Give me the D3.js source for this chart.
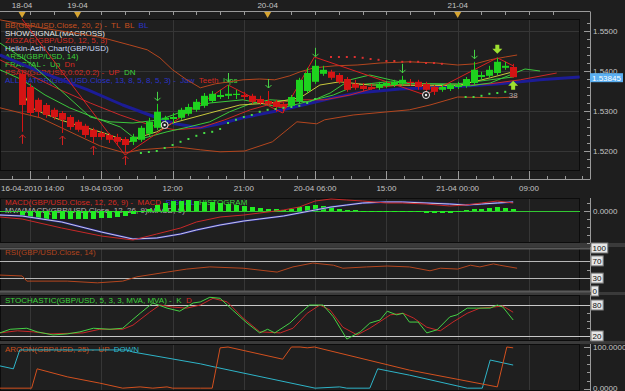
<!DOCTYPE html>
<html>
<head>
<meta charset="utf-8">
<script src="https://cdn.jsdelivr.net/npm/d3@7"></script>
<style>
body{margin:0;background:#202020;}
svg{display:block;}
text{font-family:"Liberation Sans",Arial,sans-serif;font-size:8px;}
</style>
</head>
<body>
<script>
// ---- time axis ----
var dayLabels = ["18-04", "19-04", "20-04", "21-04"];
var dayIndex = [0, 7, 31, 55];
var timeLabels = ["16-04-2010 14:00", "19-04 03:00", "12:00", "21:00", "20-04 06:00", "15:00", "21-04 00:00", "09:00"];
var timeIndex = [1, 10, 19, 28, 37, 46, 55, 64];
var priceTicks = [1.55, 1.54, 1.53, 1.52];
var lastPrice = 1.53845;

// ---- Heikin-Ashi candles (one per hour) ----
var haOpen  = [1.5393,1.5360,1.5328,1.5315,1.5303,1.5295,1.5285,1.5273,1.5263,1.5253,1.5245,1.5240,1.5235,1.5230,1.5223,1.5228,1.5243,1.5258,1.5278,1.5280,1.5283,1.5293,1.5303,1.5313,1.5325,1.5335,1.5338,1.5340,1.5340,1.5338,1.5330,1.5325,1.5323,1.5318,1.5313,1.5325,1.5350,1.5373,1.5393,1.5398,1.5390,1.5380,1.5368,1.5363,1.5360,1.5358,1.5363,1.5365,1.5368,1.5373,1.5373,1.5368,1.5360,1.5353,1.5355,1.5360,1.5363,1.5370,1.5385,1.5388,1.5395,1.5408,1.5410];
var haHigh  = [1.5403,1.5368,1.5333,1.5320,1.5308,1.5300,1.5290,1.5278,1.5268,1.5258,1.5250,1.5245,1.5243,1.5235,1.5243,1.5263,1.5283,1.5318,1.5288,1.5295,1.5308,1.5318,1.5330,1.5345,1.5350,1.5353,1.5365,1.5353,1.5348,1.5343,1.5338,1.5350,1.5328,1.5323,1.5340,1.5383,1.5408,1.5428,1.5413,1.5403,1.5395,1.5385,1.5378,1.5370,1.5368,1.5373,1.5375,1.5378,1.5388,1.5380,1.5378,1.5373,1.5365,1.5365,1.5370,1.5373,1.5385,1.5423,1.5398,1.5413,1.5433,1.5423,1.5418];
var haLow   = [1.5248,1.5288,1.5285,1.5283,1.5278,1.5245,1.5253,1.5248,1.5233,1.5220,1.5228,1.5220,1.5213,1.5195,1.5215,1.5223,1.5238,1.5253,1.5268,1.5268,1.5278,1.5288,1.5298,1.5308,1.5320,1.5330,1.5330,1.5330,1.5328,1.5318,1.5315,1.5313,1.5298,1.5295,1.5308,1.5320,1.5345,1.5368,1.5388,1.5378,1.5368,1.5348,1.5353,1.5350,1.5353,1.5353,1.5358,1.5360,1.5363,1.5363,1.5353,1.5335,1.5340,1.5348,1.5350,1.5355,1.5358,1.5365,1.5378,1.5383,1.5390,1.5403,1.5383];
var haClose = [1.5315,1.5295,1.5298,1.5290,1.5285,1.5278,1.5260,1.5253,1.5240,1.5235,1.5235,1.5228,1.5223,1.5215,1.5235,1.5258,1.5273,1.5298,1.5283,1.5285,1.5303,1.5310,1.5323,1.5338,1.5343,1.5340,1.5343,1.5343,1.5335,1.5323,1.5320,1.5318,1.5310,1.5308,1.5335,1.5378,1.5395,1.5413,1.5403,1.5383,1.5373,1.5353,1.5358,1.5355,1.5355,1.5368,1.5370,1.5373,1.5378,1.5370,1.5360,1.5353,1.5348,1.5360,1.5365,1.5365,1.5380,1.5403,1.5390,1.5403,1.5423,1.5413,1.53845];

// ---- overlays: [bar index, price] ----
var bbTop = [[-2.8,1.5528],[2.3,1.5508],[7.3,1.5493],[10.2,1.5483],[13.6,1.5465],[15.8,1.5453],[17.4,1.5433],[19,1.5403],[20.8,1.5378],[22.5,1.5358],[24.4,1.5368],[26.2,1.5373],[27.9,1.5378],[30,1.538],[31.9,1.5378],[33.8,1.5388],[35.1,1.5398],[36.9,1.5408],[39.5,1.5413],[42.3,1.5415],[45.2,1.542],[48.9,1.5423],[52.3,1.542],[55,1.5415],[57.2,1.5418],[59.1,1.5428],[61,1.5435],[62.5,1.544]];
var bbBottom = [[-2.8,1.5308],[2.3,1.5283],[6.9,1.524],[9.8,1.5213],[13,1.5195],[14.9,1.5203],[19.6,1.521],[22.5,1.5203],[25,1.5198],[28.1,1.52],[31.6,1.5223],[34.7,1.5273],[37.2,1.5268],[38.2,1.5278],[41.8,1.529],[48.9,1.5303],[51.5,1.5315],[55,1.5335],[60,1.5333],[62.5,1.5335]];
var jaw = [[-2.8,1.544],[2.3,1.5398],[8.3,1.5353],[12.7,1.5315],[16.1,1.529],[19.3,1.5268],[22.5,1.5258],[25,1.5268],[27.9,1.5283],[32.9,1.5303],[39.3,1.5333],[42.3,1.5345],[47.7,1.5355],[54,1.536],[60.3,1.5368],[65.4,1.5378],[70.4,1.5385]];
var teeth = [[-2.8,1.5428],[1,1.539],[4.8,1.5353],[8.6,1.532],[12.4,1.529],[16.1,1.5265],[19.3,1.5253],[22.5,1.5258],[25.6,1.5278],[28.8,1.5303],[31.9,1.532],[35.1,1.5328],[38.2,1.5328],[41.4,1.534],[44.6,1.5358],[47.7,1.5365],[51.5,1.5365],[55.3,1.5363],[59.1,1.5368],[62.9,1.5378],[67.5,1.5395]];
var lips = [[-2.8,1.5403],[0,1.5378],[2.9,1.534],[6,1.5308],[9.2,1.5283],[12.4,1.526],[14,1.5235],[15.5,1.5233],[18.3,1.5248],[21,1.526],[23.7,1.5273],[26.2,1.5298],[28.8,1.5318],[31.3,1.5328],[33.8,1.5325],[36.3,1.5323],[38.9,1.5345],[41.4,1.5378],[43.9,1.539],[46.5,1.5378],[48.9,1.5368],[51.5,1.5368],[54,1.5365],[56.6,1.5363],[59.1,1.537],[61.6,1.539],[63.5,1.5405],[65.4,1.54]];
var arsi = [[-2.8,1.5470],[1,1.5420],[4.8,1.5353],[8.6,1.5285],[11.1,1.5273],[14,1.527],[17.4,1.5278],[20.8,1.5303],[23.7,1.532],[27.9,1.5328],[32.9,1.5308],[39.3,1.534],[42.3,1.5365],[46.1,1.5373],[50.9,1.5368],[55,1.5368],[59.1,1.5378],[62,1.5385]];
var maFast = [[0,1.5353],[1,1.531],[2.6,1.5295],[4.8,1.5278],[6.9,1.5265],[9,1.5253],[11.1,1.524],[12.7,1.5228],[13.6,1.5223],[14.9,1.5235],[17,1.5248],[19,1.527],[23.7,1.5295],[27.5,1.5315],[31.3,1.532],[35.1,1.5333],[37.6,1.5365],[40.1,1.5373],[43.9,1.5365],[47.7,1.5365],[51.5,1.5363],[55.3,1.5365],[59.1,1.5383],[62,1.5398]];
var zigzag = [[-2.8,1.5603],[13,1.519],[26,1.5365],[32.9,1.5295],[36.9,1.5435],[50.9,1.534],[60,1.5433],[62,1.5413]];
var sarUp = [[15,1.5195],[16,1.51975],[17,1.52],[18,1.52075],[19,1.5215],[20,1.5223],[21,1.523],[22,1.5238],[23,1.5245],[24,1.5248],[25,1.5255],[26,1.527],[27,1.5278],[28,1.5285],[29,1.529],[30,1.5298],[31,1.5303],[32,1.5305],[33,1.5308],[34,1.531],[35,1.5313],[36,1.532],[37,1.533],[56,1.5335],[57,1.5335],[58,1.5338],[59,1.5343],[60,1.5345],[61,1.5348]];
var sarDown = [[39,1.5435],[40,1.5435],[41,1.5435],[42,1.5435],[43,1.5433],[44,1.543],[45,1.5428],[46,1.5425],[47,1.5425],[48,1.5423],[49,1.5423],[50,1.5423],[51,1.542],[52,1.542],[53,1.5418]];
var fractalUp = [17, 26, 31, 37, 48, 57];
var fractalDn = [0, 5, 9, 13];
var zigzagMarks = [[18,1.5265],[51,1.534]];
var sellSignal = [60];
var buySignal = [62];
var buyCount = ["38"];

// ---- MACD ----
var macdHist = [-0.0005,-0.0007,-0.0008,-0.0008,-0.0008,-0.0008,-0.0008,-0.0008,-0.0008,-0.0008,-0.0007,-0.0007,-0.0006,-0.0005,-0.0003,-0.0001,0.0002,0.0006,0.0008,0.0010,0.0010,0.0011,0.0010,0.0009,0.0009,0.0008,0.0007,0.0006,0.0005,0.0004,0.0003,0.0002,0.0002,0.0001,0.0002,0.0004,0.0005,0.0006,0.0005,0.0004,0.0002,0.0001,0.0001,0,-0.0001,-0.0001,-0.0001,-0.0001,-0.0001,-0.0001,-0.0001,-0.0002,-0.0002,-0.0002,-0.0002,-0.0001,0.0001,0.0002,0.0002,0.0003,0.0004,0.0003,0.0002];
var macdLine = [[-2.8,-0.0006],[0,-0.0008],[5,-0.0017],[10,-0.0025],[14,-0.0029],[17,-0.0023],[20,-0.0017],[22,-0.0011],[25,-0.0006],[28,-0.0004],[30,-0.0002],[33,0.0001],[35,0.0004],[37,0.0010],[39,0.0012],[41,0.0011],[43,0.0010],[46,0.0008],[48,0.0008],[51,0.0007],[54,0.0005],[56,0.0006],[58,0.0008],[60,0.0010],[62,0.0008]];
var macdSignal = [[-2.8,-0.0004],[0,-0.0005],[5,-0.0011],[10,-0.0021],[14,-0.0028],[17,-0.0027],[20,-0.0023],[22,-0.0019],[25,-0.0014],[28,-0.0010],[30,-0.0008],[33,-0.0005],[35,-0.0002],[37,0.0001],[39,0.0004],[41,0.0006],[43,0.0008],[46,0.0009],[48,0.0009],[51,0.0008],[54,0.0007],[56,0.0006],[58,0.0007],[60,0.0008],[62,0.0009]];

// ---- RSI ----
var rsiLine = [[-2.8,37],[0,35],[0.6,23],[5.7,23],[9.5,19],[12.7,23],[14.5,33],[18.3,44],[20.8,51],[23.7,56],[27.9,53],[32.2,44],[34.2,56],[36.7,65],[39.3,60],[40.5,53],[43.5,56],[46.1,58],[48.9,56],[51.5,47],[52.8,53],[55,51],[56.6,60],[57.8,56],[59.5,63],[60.3,60],[62.5,53]];
var rsiLevels = [100, 70, 30, 0];

// ---- Stochastic ----
var stochK = [[-2.8,26],[-1.5,33],[0.6,35],[1.9,28],[3.9,22],[5.7,24],[7.3,28],[9,35],[11.1,33],[12.7,35],[13.6,47],[14.9,64],[16.5,84],[18.3,74],[19.9,68],[21.6,84],[22.5,86],[23.7,95],[25,93],[26.6,70],[28.4,45],[30,26],[31,33],[31.9,26],[33.8,45],[35.1,64],[36.3,80],[38,80],[39.3,57],[41,14],[42.7,28],[43.9,45],[45.2,51],[46.1,68],[47.3,61],[48.1,64],[48.9,47],[50,47],[51.1,26],[52.4,32],[54,57],[54.9,61],[56.2,74],[57.4,74],[59.1,74],[60,80],[60.7,76],[62,51]];
var stochD = [[-2.8,26],[-0.6,30],[1.4,28],[3.5,24],[7.7,26],[9.8,33],[12.7,33],[14,41],[16.1,66],[17.4,80],[19,76],[20.8,74],[22.5,80],[24.1,93],[25.9,86],[27.9,55],[30,28],[32.6,26],[34.2,35],[36,64],[37.6,80],[38.9,70],[40.5,37],[42.3,22],[43.9,35],[46.5,61],[48.1,64],[49.4,55],[51.1,37],[52.8,30],[54.4,47],[56.2,64],[57.8,74],[59.5,76],[60.7,78],[62,66]];
var stochLevels = [80, 20];

// ---- Aroon ----
var aroonUp = [[-2.8,2],[1.2,2],[1.9,48],[5.7,29],[9.8,14],[12.7,2],[14.9,5],[16.5,2],[18.3,5],[19,2],[22.5,2],[24,2],[25,98],[26,100],[32.9,71],[34,100],[35.1,100],[36,98],[36.9,100],[48.9,45],[60,5],[61.2,100],[62,98]];
var aroonDown = [[-2.8,55],[-1.1,48],[-0.3,93],[13.2,93],[14,88],[22.5,60],[24.4,52],[37,2],[40.1,5],[41,2],[43.9,2],[44.9,48],[48.9,33],[56.2,2],[58.1,2],[59.1,69],[62,57]];

// ---------------------------------------------------------------
var W = 625, H = 391, plotR = 580, axisX = 590;
var grey = "#c4c4c4";

var panels = {
	main:  {top: 19,  bottom: 171},
	macd:  {top: 198, bottom: 243},
	rsi:   {top: 247, bottom: 292},
	stoch: {top: 295, bottom: 341},
	aroon: {top: 344, bottom: 391}
};

var x = d3.scaleLinear().domain([0, 64]).range([22.1, 529]);
var yPrice = d3.scaleLinear().domain([1.52, 1.55]).range([151, 31]);
var yMacd = d3.scaleLinear().domain([0, 0.001]).range([211, 201]);
var yRsi = d3.scaleLinear().domain([0, 100]).range([291, 248]);
var yStoch = d3.scaleLinear().domain([0, 100]).range([346.3, 294.7]);
var yAroon = d3.scaleLinear().domain([0, 100]).range([389, 347]);

var svg = d3.select("body").append("svg").attr("width", W).attr("height", H);
svg.append("rect").attr("width", W).attr("height", H).attr("fill", "#1e1e1e");

var defs = svg.append("defs");
Object.keys(panels).forEach(function(k){
	var p = panels[k];
	defs.append("clipPath").attr("id", "clip-" + k)
		.append("rect").attr("x", 0).attr("y", p.top).attr("width", plotR).attr("height", p.bottom - p.top);
});

// splitters between panels
[[243,247],[292,295],[341,344]].forEach(function(s){
	svg.append("rect").attr("x", 0).attr("y", s[0]).attr("width", W).attr("height", s[1] - s[0]).attr("fill", "#3a3a3a");
});

// panel frames
Object.keys(panels).forEach(function(k){
	var p = panels[k];
	svg.append("rect").attr("x", 0.5).attr("y", p.top + 0.5).attr("width", plotR - 1).attr("height", p.bottom - p.top - 1)
		.attr("fill", "#1f1f1f").attr("stroke", "#0c0c0c");
});

// vertical grid
Object.keys(panels).forEach(function(k){
	var p = panels[k];
	svg.append("g").selectAll("line").data(timeIndex).enter().append("line")
		.attr("x1", function(d){ return Math.round(x(d)) + 0.5; })
		.attr("x2", function(d){ return Math.round(x(d)) + 0.5; })
		.attr("y1", p.top + 1).attr("y2", p.bottom - 1)
		.attr("stroke", "#363636");
});

// horizontal price grid
svg.append("g").selectAll("line").data(priceTicks).enter().append("line")
	.attr("x1", 1).attr("x2", plotR - 1)
	.attr("y1", function(d){ return Math.round(yPrice(d)) + 0.5; })
	.attr("y2", function(d){ return Math.round(yPrice(d)) + 0.5; })
	.attr("stroke", "#363636");

// ---- top date axis ----
svg.append("line").attr("x1", 0).attr("x2", axisX).attr("y1", 11.5).attr("y2", 11.5).attr("stroke", "#9a9a9a");
svg.append("g").selectAll("line").data(d3.range(1, 70, 3)).enter().append("line")
	.attr("x1", function(d){ return Math.round(x(d)) + 0.5; })
	.attr("x2", function(d){ return Math.round(x(d)) + 0.5; })
	.attr("y1", 11.5).attr("y2", 15).attr("stroke", "#9a9a9a");
svg.append("g").selectAll("text").data(dayLabels).enter().append("text")
	.attr("x", function(d, i){ return x(dayIndex[i]); })
	.attr("y", 8).attr("text-anchor", "middle").attr("fill", grey)
	.text(function(d){ return d; });
svg.append("g").selectAll("path").data(dayIndex).enter().append("path")
	.attr("d", function(d){ var cx = x(d); return "M" + (cx - 3.5) + ",12L" + (cx + 3.5) + ",12L" + cx + ",18Z"; })
	.attr("fill", "#d7a531");

// ---- bottom time axis (major every 9 h, minor every 2.25 h) ----
svg.append("line").attr("x1", 0).attr("x2", axisX).attr("y1", 179.5).attr("y2", 179.5).attr("stroke", "#9a9a9a");
svg.append("g").selectAll("line").data(d3.range(-1.25, 71, 2.25)).enter().append("line")
	.attr("x1", function(d){ return Math.round(x(d)) + 0.5; })
	.attr("x2", function(d){ return Math.round(x(d)) + 0.5; })
	.attr("y1", 179.5)
	.attr("y2", function(d){ return timeIndex.indexOf(d) >= 0 ? 171 : 176; })
	.attr("stroke", "#9a9a9a");
svg.append("g").selectAll("text").data(timeLabels).enter().append("text")
	.attr("y", 191).attr("fill", grey)
	.text(function(d){ return d; })
	.attr("x", function(d, i){
		var w = this.getComputedTextLength();
		return Math.max(1, x(timeIndex[i]) - w / 2);
	});

// ---- right axes ----
function rightAxis(top, bottom, ticks){
	svg.append("line").attr("x1", axisX + 0.5).attr("x2", axisX + 0.5).attr("y1", top).attr("y2", bottom).attr("stroke", "#9a9a9a");
	svg.append("g").selectAll("line").data(ticks).enter().append("line")
		.attr("x1", function(d){ return axisX - d[1]; }).attr("x2", axisX)
		.attr("y1", function(d){ return Math.round(d[0]) + 0.5; })
		.attr("y2", function(d){ return Math.round(d[0]) + 0.5; })
		.attr("stroke", "#9a9a9a");
}
rightAxis(11.5, 179.5, d3.range(1.516, 1.5531, 0.002).map(function(v){
	var major = Math.abs(Math.round(v * 100) - v * 100) < 1e-6;
	return [yPrice(v), major ? 6 : 3];
}));
svg.append("g").selectAll("text").data(priceTicks).enter().append("text")
	.attr("x", axisX + 3).attr("y", function(d){ return yPrice(d) + 2.5; })
	.attr("fill", grey).text(function(d){ return d.toFixed(4); });

// last price tag
svg.append("rect").attr("x", axisX).attr("y", yPrice(lastPrice) - 4).attr("width", 33).attr("height", 9).attr("fill", "#5aaef0");
svg.append("text").attr("x", axisX + 2).attr("y", yPrice(lastPrice) + 3.5).attr("fill", "#ffffff").text(lastPrice.toFixed(5));

rightAxis(panels.macd.top, panels.macd.bottom, [-0.0032,-0.0024,-0.0016,-0.0008,0,0.0008].map(function(v){ return [yMacd(v), v === 0 ? 6 : 3]; }));
svg.append("text").attr("x", axisX + 3).attr("y", yMacd(0) + 3).attr("fill", grey).text("0.0000");

rightAxis(panels.rsi.top, panels.rsi.bottom, [[yRsi(50), 3]]);
rightAxis(panels.stoch.top, panels.stoch.bottom, [35, 50, 65].map(function(v){ return [yStoch(v), 3]; }));
rightAxis(panels.aroon.top, panels.aroon.bottom, d3.range(0, 101, 20).map(function(v){ return [yAroon(v), v % 100 === 0 ? 6 : 3]; }));
svg.append("text").attr("x", axisX + 3).attr("y", yAroon(100) + 3).attr("fill", grey).text("100.0000");
svg.append("text").attr("x", axisX + 3).attr("y", yAroon(0) + 1.5).attr("fill", grey).text("0.0000");

function boxedLabels(levels, yS){
	var g = svg.append("g").selectAll("g").data(levels).enter().append("g");
	g.append("rect").attr("x", axisX + 1).attr("y", function(d){ return yS(d) - 5; })
		.attr("height", 10).attr("width", function(d){ return String(d).length * 4.6 + 3; })
		.attr("fill", "#e6e6e6").attr("stroke", "#777");
	g.append("text").attr("x", axisX + 2.5).attr("y", function(d){ return yS(d) + 3; })
		.attr("fill", "#111").text(function(d){ return d; });
}

// level lines
svg.append("g").selectAll("line").data(rsiLevels).enter().append("line")
	.attr("x1", 0).attr("x2", axisX)
	.attr("y1", function(d){ return Math.round(yRsi(d)) + 0.5; })
	.attr("y2", function(d){ return Math.round(yRsi(d)) + 0.5; })
	.attr("stroke", function(d){ return (d === 70 || d === 30) ? "#b8b8b8" : "#5a5a5a"; })
	.attr("stroke-width", function(d){ return (d === 70 || d === 30) ? 1 : 2; });
svg.append("g").selectAll("line").data(stochLevels).enter().append("line")
	.attr("x1", 0).attr("x2", axisX)
	.attr("y1", function(d){ return Math.round(yStoch(d)) + 0.5; })
	.attr("y2", function(d){ return Math.round(yStoch(d)) + 0.5; })
	.attr("stroke", "#c8c8c8");
boxedLabels(rsiLevels, yRsi);
boxedLabels(stochLevels, yStoch);

// ---- legends ----
function legend(yy, parts){
	var t = svg.append("text").attr("x", 5).attr("y", yy).attr("xml:space", "preserve");
	parts.forEach(function(p){ t.append("tspan").attr("fill", p[1]).text(p[0]); });
}
var cRed = "#d42a22", cGreen = "#3cd23c", cBlue = "#2c34c8", cOrange = "#c8501e";
legend(28, [["BB(GBP/USD.Close, 20, 2) -  TL  BL", cOrange], ["  BL", cBlue]]);
legend(35.5, [["SHOWSIGNAL(MACROSS)", "#e8e8e8"]]);
legend(43, [["ZIGZAG(GBP/USD, 12, 5, 3)", cRed]]);
legend(51, [["Heikin-Ashi Chart(GBP/USD)", "#c8d8f4"]]);
legend(59, [["ARSI(GBP/USD, 14)", cGreen]]);
legend(67, [["FRACTAL -  Up", cGreen], ["  Dn", cRed]]);
legend(74.5, [["PSAR(GBP/USD,0.02,0.2) -  UP", cRed], ["  DN", cGreen]]);
legend(82.5, [["ALLIGATOR(GBP/USD.Close, 13, 8, 5, 8, 5, 3) -  Jaw", cBlue], ["  Teeth", cRed], ["  Lips", cGreen]]);
legend(205, [["MACD(GBP/USD.Close, 12, 26, 9) -  MACD", cRed], ["  SIGNAL", cBlue], ["  HISTOGRAM", cGreen]]);
legend(213, [["MVA(MACD(GBP/USD.Close, 12, 26, 9).MACD, 9)", "#b4b4b4"]]);
legend(255, [["RSI(GBP/USD.Close, 14)", "#b0441e"]]);
legend(303, [["STOCHASTIC(GBP/USD, 5, 3, 3, MVA, MVA) -  K", cGreen], ["  D", cRed]]);
legend(352, [["AROON(GBP/USD, 25) -  UP", cOrange], ["  DOWN", "#2eb4c8"]]);

// ---- series helpers ----
function drawLine(panel, pts, yS, color, width){
	svg.append("path").datum(pts)
		.attr("clip-path", "url(#clip-" + panel + ")")
		.attr("d", d3.line().x(function(d){ return x(d[0]); }).y(function(d){ return yS(d[1]); }))
		.attr("fill", "none").attr("stroke", color).attr("stroke-width", width || 1)
		.attr("stroke-linejoin", "round");
}

// ---- main panel ----
drawLine("main", jaw, yPrice, "#1c1c96", 3);
drawLine("main", bbTop, yPrice, "#b4461e", 1);
drawLine("main", bbBottom, yPrice, "#b4461e", 1);
drawLine("main", teeth, yPrice, "#c82828", 1);
drawLine("main", arsi, yPrice, "#3cc83c", 1);
drawLine("main", lips, yPrice, "#3cc83c", 1);
drawLine("main", maFast, yPrice, "#c8c83c", 1);
drawLine("main", zigzag, yPrice, "#d82020", 1);

var idx = d3.range(haOpen.length);
var candles = svg.append("g").attr("clip-path", "url(#clip-main)");
var cg = candles.selectAll("g").data(idx).enter().append("g")
	.attr("fill", function(i){ return haClose[i] >= haOpen[i] ? "#1ed21e" : "#d41414"; })
	.attr("stroke", function(i){ return haClose[i] >= haOpen[i] ? "#1ed21e" : "#d41414"; });
cg.append("line")
	.attr("x1", function(i){ return Math.round(x(i)) + 0.5; })
	.attr("x2", function(i){ return Math.round(x(i)) + 0.5; })
	.attr("y1", function(i){ return yPrice(haHigh[i]); })
	.attr("y2", function(i){ return yPrice(haLow[i]); });
cg.append("rect")
	.attr("x", function(i){ return Math.round(x(i)) - 3; })
	.attr("width", 7)
	.attr("y", function(i){ return Math.min(yPrice(haOpen[i]), yPrice(haClose[i])); })
	.attr("height", function(i){ return Math.max(1, Math.abs(yPrice(haOpen[i]) - yPrice(haClose[i]))); })
	.attr("stroke", "none");

// psar dots
svg.append("g").selectAll("rect").data(sarUp).enter().append("rect")
	.attr("x", function(d){ return x(d[0]) - 1; }).attr("y", function(d){ return yPrice(d[1]) - 1; })
	.attr("width", 2).attr("height", 2).attr("fill", "#46dc46");
svg.append("g").selectAll("rect").data(sarDown).enter().append("rect")
	.attr("x", function(d){ return x(d[0]) - 1; }).attr("y", function(d){ return yPrice(d[1]) - 1; })
	.attr("width", 2).attr("height", 2).attr("fill", "#dc3030");

// fractals
svg.append("g").selectAll("path").data(fractalUp).enter().append("path")
	.attr("d", function(i){ var cx = Math.round(x(i)) + 0.5, t = yPrice(haHigh[i]) - 12;
		return "M" + cx + "," + t + "V" + (t + 9) + "M" + (cx - 3) + "," + (t + 6) + "L" + cx + "," + (t + 9) + "L" + (cx + 3) + "," + (t + 6); })
	.attr("fill", "none").attr("stroke", "#46d246");
svg.append("g").selectAll("path").data(fractalDn).enter().append("path")
	.attr("d", function(i){ var cx = Math.round(x(i)) + 0.5, t = yPrice(haLow[i]) + 3;
		return "M" + cx + "," + t + "V" + (t + 9) + "M" + (cx - 3) + "," + (t + 3) + "L" + cx + "," + t + "L" + (cx + 3) + "," + (t + 3); })
	.attr("fill", "none").attr("stroke", "#d42020");

// zigzag pivot markers
var zm = svg.append("g").selectAll("g").data(zigzagMarks).enter().append("g");
zm.append("circle").attr("cx", function(d){ return x(d[0]); }).attr("cy", function(d){ return yPrice(d[1]); })
	.attr("r", 3.5).attr("fill", "#1e1e1e").attr("stroke", "#f0f0f0");
zm.append("circle").attr("cx", function(d){ return x(d[0]); }).attr("cy", function(d){ return yPrice(d[1]); })
	.attr("r", 1.2).attr("fill", "#f0f0f0");

// signal arrows
svg.append("g").selectAll("path").data(sellSignal).enter().append("path")
	.attr("d", function(i){ var cx = x(i), t = yPrice(haHigh[i]) - 13;
		return "M" + (cx - 2) + "," + t + "h4v4h3l-5,5l-5,-5h3z"; })
	.attr("fill", "#9ee030");
svg.append("g").selectAll("path").data(buySignal).enter().append("path")
	.attr("d", function(i){ var cx = x(i), t = yPrice(haLow[i]) + 3;
		return "M" + cx + "," + t + "l5,5h-3v4h-4v-4h-3z"; })
	.attr("fill", "#9ee030");
svg.append("g").selectAll("text").data(buySignal).enter().append("text")
	.attr("x", function(i){ return x(i); }).attr("y", function(i){ return yPrice(haLow[i]) + 20; })
	.attr("text-anchor", "middle").attr("fill", "#a8a8a8")
	.text(function(d, k){ return buyCount[k]; });

// ---- MACD panel ----
svg.append("line").attr("x1", 0).attr("x2", plotR).attr("y1", yMacd(0) + 0.5).attr("y2", yMacd(0) + 0.5).attr("stroke", "#32c832");
svg.append("g").attr("clip-path", "url(#clip-macd)").selectAll("rect").data(macdHist).enter().append("rect")
	.attr("x", function(d, i){ return Math.round(x(i)) - 2; })
	.attr("width", 5)
	.attr("y", function(d){ return Math.min(yMacd(d), yMacd(0)); })
	.attr("height", function(d){ return Math.max(1, Math.abs(yMacd(d) - yMacd(0))); })
	.attr("fill", "#22ee22");
drawLine("macd", macdSignal, yMacd, "#2a2aa8", 2);
drawLine("macd", macdSignal, yMacd, "#c8c8dc", 1);
drawLine("macd", macdLine, yMacd, "#c82828", 1);

// ---- RSI ----
drawLine("rsi", rsiLine, yRsi, "#b4461e", 1);

// ---- Stochastic ----
drawLine("stoch", stochD, yStoch, "#c82828", 1);
drawLine("stoch", stochK, yStoch, "#46d246", 1);

// ---- Aroon ----
drawLine("aroon", aroonDown, yAroon, "#2eb4c8", 1);
drawLine("aroon", aroonUp, yAroon, "#d2501e", 1);
</script>
</body>
</html>
